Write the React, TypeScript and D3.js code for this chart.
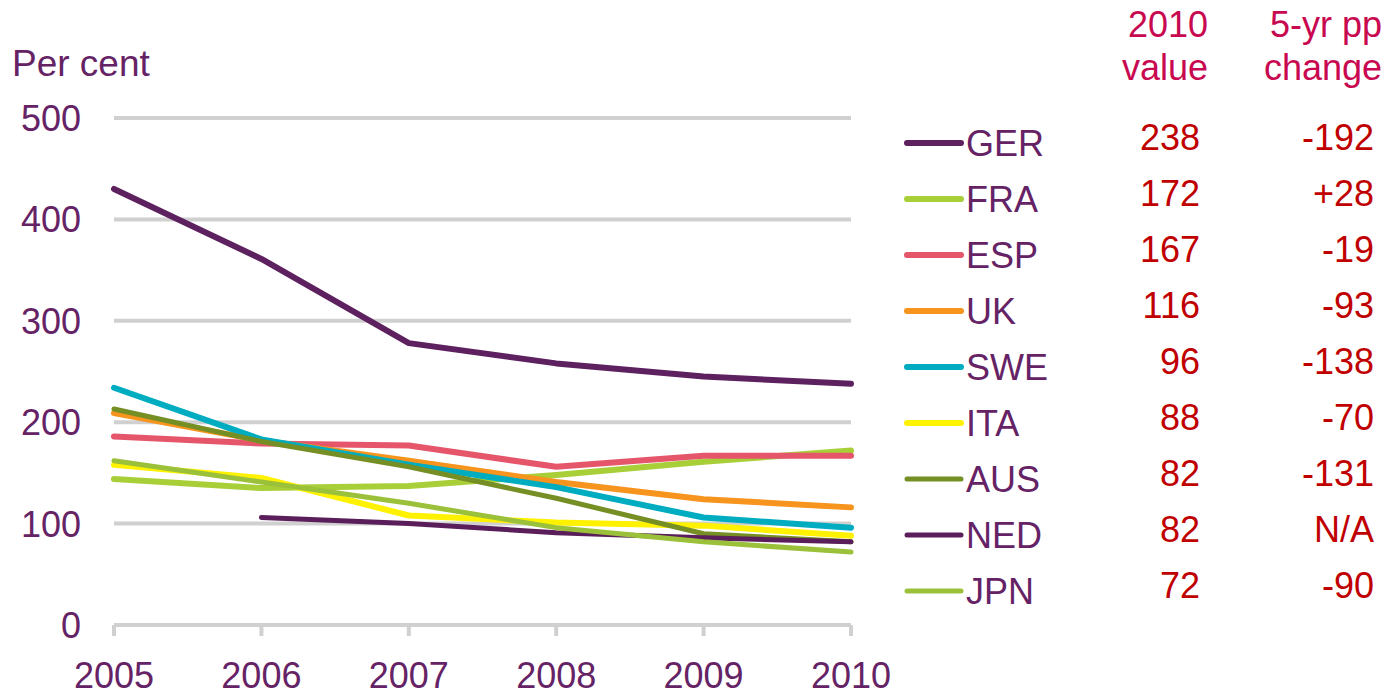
import React from "react";
import * as d3 from "d3";

const years = [2005, 2006, 2007, 2008, 2009, 2010];
const yTicks = [0, 100, 200, 300, 400, 500];

const countries = ["GER", "FRA", "ESP", "UK", "SWE", "ITA", "AUS", "NED", "JPN"];
const colors = ["#5e2160", "#a9cf38", "#e5566b", "#f7941d", "#00acc0", "#fff200", "#768f24", "#5a1f5a", "#9bc13a"];
const widths = [6, 6, 6, 6, 6, 6, 5, 5, 5];

const GER = [430, 361, 278, 258, 245, 238];
const FRA = [144, 135, 137, 148, 161, 172];
const ESP = [186, 179, 177, 156, 167, 167];
const UK = [209, 182, 162, 141, 124, 116];
const SWE = [234, 183, 158, 136, 106, 96];
const ITA = [158, 145, 108, 101, 98, 88];
const AUS = [213, 181, 156, 125, 90, 82];
const NED = [null, 106, 100, 91, 86, 82];
const JPN = [162, 141, 120, 96, 82, 72];

const values2010 = ["238", "172", "167", "116", "96", "88", "82", "82", "72"];
const changes = ["-192", "+28", "-19", "-93", "-138", "-70", "-131", "N/A", "-90"];

const series = [GER, FRA, ESP, UK, SWE, ITA, AUS, NED, JPN];

const purple = "#652366";
const red = "#c00000";
const headRed = "#c8084f";
const grid = "#d0d0d0";
const font = "'Liberation Sans', Arial, sans-serif";

export default function App() {
  const W = 1389;
  const H = 694;
  const x = d3.scaleLinear().domain([2005, 2010]).range([114, 851]);
  const y = d3.scaleLinear().domain([0, 500]).range([625, 118]);

  const line = d3
    .line<number | null>()
    .defined((d) => d != null)
    .x((_, i) => x(years[i]))
    .y((d) => y(d as number));

  const rowY = (i: number) => 143 + i * 56;

  return (
    <svg width={W} height={H} style={{ position: "absolute", left: 0, top: 0 }} fontFamily={font}>
      <text x={12} y={76} fontSize={37} fill={purple}>Per cent</text>

      {/* gridlines */}
      {yTicks.map((t) => (
        <g key={t}>
          <line x1={114} x2={851} y1={y(t)} y2={y(t)} stroke={grid} strokeWidth={4} />
          <text x={81} y={y(t)} dy="0.36em" textAnchor="end" fontSize={36} fill={purple}>{t}</text>
        </g>
      ))}
      {years.map((yr) => (
        <g key={yr}>
          <line x1={x(yr)} x2={x(yr)} y1={y(0)} y2={y(0) + 11} stroke={grid} strokeWidth={4} />
          <text x={x(yr)} y={688} textAnchor="middle" fontSize={36} fill={purple}>{yr}</text>
        </g>
      ))}

      {/* lines */}
      {series.map((s, i) => (
        <path
          key={countries[i]}
          d={line(s) || ""}
          fill="none"
          stroke={colors[i]}
          strokeWidth={widths[i]}
          strokeLinejoin="round"
          strokeLinecap="round"
        />
      ))}

      {/* table header */}
      <text x={1208} y={37} textAnchor="end" fontSize={36} fill={headRed}>2010</text>
      <text x={1208} y={80} textAnchor="end" fontSize={36} fill={headRed}>value</text>
      <text x={1382} y={37} textAnchor="end" fontSize={36} fill={headRed}>5-yr pp</text>
      <text x={1382} y={80} textAnchor="end" fontSize={36} fill={headRed}>change</text>

      {/* legend + table */}
      {countries.map((c, i) => (
        <g key={c}>
          <line x1={907} x2={961} y1={rowY(i)} y2={rowY(i)} stroke={colors[i]} strokeWidth={widths[i]} strokeLinecap="round" />
          <text x={966} y={rowY(i) + 13} fontSize={36} fill={purple}>{c}</text>
          <text x={1200} y={rowY(i) + 7} textAnchor="end" fontSize={36} fill={red}>{values2010[i]}</text>
          <text x={1374} y={rowY(i) + 7} textAnchor="end" fontSize={36} fill={red}>{changes[i]}</text>
        </g>
      ))}
    </svg>
  );
}
